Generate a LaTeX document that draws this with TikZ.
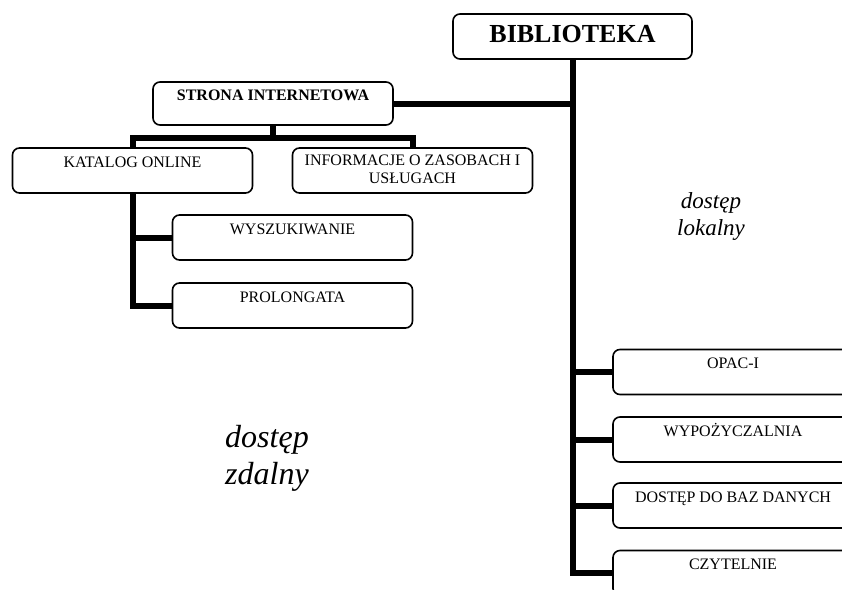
\documentclass[tikz,border=0pt]{standalone}
\usepackage{fontspec}
\setmainfont{Liberation Serif}
\usepackage{tikz}
\usetikzlibrary{calc}
\tikzset{
  pole/.style={draw, line width=1.6pt, rounded corners=7pt, minimum width=240pt, minimum height=45pt,
    inner ysep=4pt, text height=15pt, text depth=22pt, align=center, font=\fontsize{16}{18}\selectfont},
  glowne/.style={pole, minimum width=239pt, text height=17pt, text depth=6pt, font=\fontsize{26}{30}\selectfont\bfseries},
  lacz/.style={line width=6pt},
  opis/.style={align=center}
}
\newcommand{\pole}[4]{ \node[pole] (#1) at ( #2 , #3 ) {#4};}

\begin{document}
\begin{tikzpicture}[x=1pt, y=-1pt]
        \path[use as bounding box] (0,0) rectangle (842,589);
        \clip (0,0) rectangle (842,589);
        % gora
        \node[glowne] (bib) at (572.5,36.5) {BIBLIOTEKA};
        \node[pole, minimum height=43pt, text height=14pt, text depth=21pt, font=\fontsize{16}{18}\selectfont\bfseries] (strona) at (273,103.5) {STRONA INTERNETOWA};
        % zdalny
        \pole{katalog}{132.5}{170.5}{KATALOG ONLINE}
        \node[pole, text height=31pt, text depth=6pt] (info) at (412.5,170.5) {INFORMACJE O ZASOBACH I\\USŁUGACH};
        \pole{wyszuk}{292.5}{237.5}{WYSZUKIWANIE}
        \pole{prolong}{292.5}{305.5}{PROLONGATA}
        % lokalny
        \pole{opac}{733}{372}{OPAC-I}
        \pole{wyp}{733}{439.5}{WYPOŻYCZALNIA}
        \pole{dostep}{733}{505.5}{DOSTĘP DO BAZ DANYCH}
        \pole{czyt}{733}{573}{CZYTELNIE}
        % polaczenia
        \draw[lacz] (bib.south) |- (czyt.west);
        \foreach \n in {opac,wyp,dostep}
          \draw[lacz] (bib.south |- \n.west) -- (\n.west);
        \draw[lacz] (strona.east) -- (strona.east -| bib.south);
        \draw[lacz] (strona.south) -- ++(0,12) coordinate (rozg) -| (katalog.north);
        \draw[lacz] (rozg) -| (info.north);
        \draw[lacz] (katalog.south) |- (wyszuk.west);
        \draw[lacz] (katalog.south) |- (prolong.west);
        % opisy
        \node[opis, font=\fontsize{23}{27}\selectfont\itshape] (lokalny) at (711,216) {dostęp\\lokalny};
        \node[opis, font=\fontsize{32}{37}\selectfont\itshape] (zdalny) at (267,458) {dostęp\\zdalny};
\end{tikzpicture}
\end{document}
